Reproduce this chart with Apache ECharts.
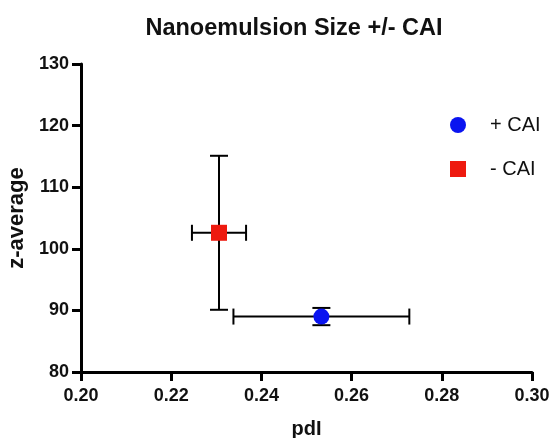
<!DOCTYPE html>
<html>
<head>
<meta charset="utf-8">
<script src="https://cdn.jsdelivr.net/npm/echarts@6/dist/echarts.min.js"></script>
<style>html,body{margin:0;padding:0;background:#fff}#c{width:553px;height:438px}</style>
</head>
<body>
<div id="c"></div>
<script>
var seriesNames = ['+ CAI', '- CAI'];
var xMeans = [0.2533, 0.2306];
var yMeans = [89.0, 102.6];
var xErrs = [0.0195, 0.0060];
var yErrs = [1.4, 12.5];
var colors = ['#0a14f0', '#ee1a0f'];
var symbols = ['circle', 'rect'];
var xTicks = [0.20, 0.22, 0.24, 0.26, 0.28, 0.30];
var yTicks = [80, 90, 100, 110, 120, 130];

var chart = echarts.init(document.getElementById('c'));
var font = 'Liberation Sans, Arial, sans-serif';

var errData = xMeans.map(function (x, i) { return [x, yMeans[i], xErrs[i], yErrs[i]]; });

function renderErr(params, api) {
  var x = api.value(0), y = api.value(1), ex = api.value(2), ey = api.value(3);
  var c = api.coord([x, y]);
  var l = api.coord([x - ex, y]), r = api.coord([x + ex, y]);
  var t = api.coord([x, y + ey]), b = api.coord([x, y - ey]);
  var cap = 9, capv = 8;
  var st = { stroke: '#000', lineWidth: 2 };
  return {
    type: 'group',
    children: [
      { type: 'line', shape: { x1: l[0], y1: c[1], x2: r[0], y2: c[1] }, style: st },
      { type: 'line', shape: { x1: l[0], y1: c[1] - capv, x2: l[0], y2: c[1] + capv }, style: st },
      { type: 'line', shape: { x1: r[0], y1: c[1] - capv, x2: r[0], y2: c[1] + capv }, style: st },
      { type: 'line', shape: { x1: c[0], y1: t[1], x2: c[0], y2: b[1] }, style: st },
      { type: 'line', shape: { x1: c[0] - cap, y1: t[1], x2: c[0] + cap, y2: t[1] }, style: st },
      { type: 'line', shape: { x1: c[0] - cap, y1: b[1], x2: c[0] + cap, y2: b[1] }, style: st }
    ]
  };
}

var series = [{
  type: 'custom',
  renderItem: renderErr,
  data: errData,
  z: 1,
  silent: true
}];
seriesNames.forEach(function (n, i) {
  series.push({
    name: n,
    type: 'scatter',
    symbol: symbols[i],
    symbolSize: 16,
    itemStyle: { color: colors[i], opacity: 1 },
    data: [[xMeans[i], yMeans[i]]],
    z: 3
  });
});

var tickStyle = { show: true, length: 9, lineStyle: { color: '#000', width: 3, opacity: 1 } };

chart.setOption({
  animation: false,
  backgroundColor: '#fff',
  title: {
    text: 'Nanoemulsion Size +/- CAI',
    left: 289, textAlign: 'center', top: 12,
    textStyle: { fontFamily: font, fontWeight: 'bold', fontSize: 23.5, color: '#111' }
  },
  legend: {
    data: seriesNames.map(function (n, i) { return { name: n, icon: symbols[i] }; }),
    orient: 'vertical',
    left: 445, top: 110,
    itemWidth: 16, itemHeight: 16, itemGap: 24,
    textStyle: { fontFamily: font, fontSize: 20, color: '#111', padding: [0, 0, 0, 19] }
  },
  grid: { left: 81, right: 21, top: 64, bottom: 66, containLabel: false, outerBoundsMode: 'none' },
  xAxis: {
    type: 'value', min: xTicks[0], max: xTicks[xTicks.length - 1], interval: 0.02,
    name: 'pdI', nameLocation: 'middle', nameGap: 47,
    nameTextStyle: { fontFamily: font, fontWeight: 'bold', fontSize: 20, color: '#111' },
    axisLine: { show: true, onZero: false, lineStyle: { color: '#000', width: 3 } },
    axisTick: tickStyle,
    axisLabel: { fontFamily: font, fontWeight: 'bold', fontSize: 18, color: '#111', margin: 15,
      formatter: function (v) { return v.toFixed(2); } },
    splitLine: { show: false }
  },
  yAxis: {
    type: 'value', min: yTicks[0], max: yTicks[yTicks.length - 1], interval: 10,
    name: 'z-average', nameLocation: 'middle', nameGap: 52,
    nameTextStyle: { fontFamily: font, fontWeight: 'bold', fontSize: 22, color: '#111' },
    axisLine: { show: true, onZero: false, lineStyle: { color: '#000', width: 3 } },
    axisTick: tickStyle,
    axisLabel: { fontFamily: font, fontWeight: 'bold', fontSize: 18, color: '#111', margin: 12 },
    splitLine: { show: false }
  },
  series: series
});
</script>
</body>
</html>
